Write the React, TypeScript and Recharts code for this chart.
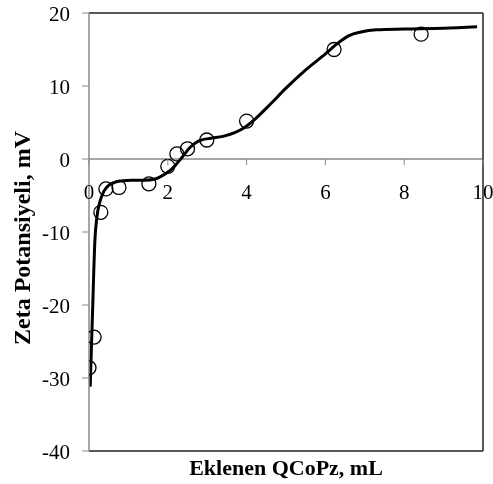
import React from "react";
import { ComposedChart, Line, Scatter, XAxis, YAxis, ReferenceLine } from "recharts";

const xTicks = [0, 2, 4, 6, 8, 10];
const yTicks = [-40, -30, -20, -10, 0, 10, 20];

// measured points (mL, mV)
const pointX = [0.0, 0.13, 0.3, 0.43, 0.76, 1.52, 2.0, 2.23, 2.5, 2.99, 4.0, 6.22, 8.43];
const pointY = [-28.6, -24.4, -7.3, -4.1, -3.9, -3.4, -1.0, 0.7, 1.4, 2.6, 5.2, 15.0, 17.1];

// fitted curve
const curveX = [0.03, 0.09, 0.15, 0.2, 0.28, 0.38, 0.5, 0.65, 0.8, 1.1, 1.4, 1.7, 1.95, 2.1, 2.25, 2.4, 2.55, 2.7, 2.85, 3.1, 3.4, 3.7, 3.95, 4.2, 4.6, 5.0, 5.5, 6.0, 6.3, 6.6, 6.9, 7.3, 8.0, 9.0, 9.85];
const curveY = [-31.2, -21.0, -11.1, -8.0, -5.8, -4.4, -3.6, -3.2, -3.0, -2.9, -2.9, -2.7, -2.0, -1.4, -0.5, 0.5, 1.5, 2.2, 2.6, 2.85, 3.1, 3.6, 4.3, 5.4, 7.5, 9.7, 12.2, 14.4, 15.8, 16.9, 17.4, 17.7, 17.8, 17.9, 18.1];

const points = pointX.map((x, i) => ({ x, y: pointY[i] }));
const curve = curveX.map((x, i) => ({ x, y: curveY[i] }));

const W = 485;
const H = 484;
const M = { top: 13, right: 10, bottom: 0, left: 0 };
const Y_AXIS_W = 81;
const X_AXIS_H = 33;
const PLOT_H = H - M.top - M.bottom - X_AXIS_H;
const Y_MIN = -40;
const Y_MAX = 20;
const FONT = "Liberation Serif, Times New Roman, serif";

const zeroY = M.top + (PLOT_H * (Y_MAX - 0)) / (Y_MAX - Y_MIN);

const XTick = (props: any) => {
  const { x, payload } = props;
  return (
    <g>
      <line x1={x} x2={x} y1={zeroY} y2={zeroY + 6} stroke="#888888" strokeWidth={1} />
      <text x={x} y={zeroY + 40} textAnchor="middle" style={{ fontFamily: FONT, fontSize: 21 }} fill="#000">
        {payload.value}
      </text>
    </g>
  );
};

const YTick = (props: any) => {
  const { x, y, payload } = props;
  return (
    <text x={x} y={y} dy={7.5} textAnchor="end" style={{ fontFamily: FONT, fontSize: 21 }} fill="#000">
      {payload.value}
    </text>
  );
};

const YLabel = (props: any) => {
  const { viewBox } = props;
  const cx = 14;
  const cy = viewBox.y + viewBox.height / 2 + 6;
  return (
    <text
      x={cx}
      y={cy}
      transform={`rotate(-90, ${cx}, ${cy})`}
      textAnchor="middle"
      dominantBaseline="central"
      style={{ fontFamily: FONT, fontSize: 24, fontWeight: "bold" }}
      fill="#000"
    >
      Zeta Potansiyeli, mV
    </text>
  );
};

const XLabel = (props: any) => {
  const { viewBox } = props;
  const cx = viewBox.x + viewBox.width / 2;
  return (
    <text
      x={cx}
      y={H - 9}
      textAnchor="middle"
      style={{ fontFamily: FONT, fontSize: 22, fontWeight: "bold" }}
      fill="#000"
    >
      Eklenen QCoPz, mL
    </text>
  );
};

const Circle = (props: any) => {
  const { cx, cy } = props;
  return <circle cx={cx} cy={cy} r={7} fill="none" stroke="#000" strokeWidth={1.3} />;
};

export default function App() {
  return (
    <div style={{ position: "fixed", left: 8, top: 0, width: W, height: H }}>
      <ComposedChart width={W} height={H} margin={M} style={{ overflow: "visible" }}>
        <XAxis
          dataKey="x"
          type="number"
          domain={[0, 10]}
          ticks={xTicks}
          axisLine={false}
          tickLine={false}
          tick={XTick}
          height={X_AXIS_H}
          allowDataOverflow
          label={<XLabel />}
        />
        <YAxis
          type="number"
          domain={[Y_MIN, Y_MAX]}
          ticks={yTicks}
          width={Y_AXIS_W}
          axisLine={{ stroke: "#888888", strokeWidth: 1.5 }}
          tickLine={{ stroke: "#888888" }}
          tickSize={7}
          tickMargin={12}
          tick={YTick}
          allowDataOverflow
          label={<YLabel />}
        />
        <ReferenceLine y={0} stroke="#888888" strokeWidth={1.5} />
        <ReferenceLine y={Y_MAX} stroke="#222" strokeWidth={1.5} />
        <ReferenceLine y={Y_MIN} stroke="#222" strokeWidth={1.5} />
        <ReferenceLine x={10} stroke="#222" strokeWidth={1.5} />
        <Line
          data={curve}
          dataKey="y"
          type="monotone"
          stroke="#000"
          strokeWidth={3}
          dot={false}
          activeDot={false}
          isAnimationActive={false}
        />
        <Scatter data={points} dataKey="y" shape={Circle} isAnimationActive={false} />
      </ComposedChart>
    </div>
  );
}
